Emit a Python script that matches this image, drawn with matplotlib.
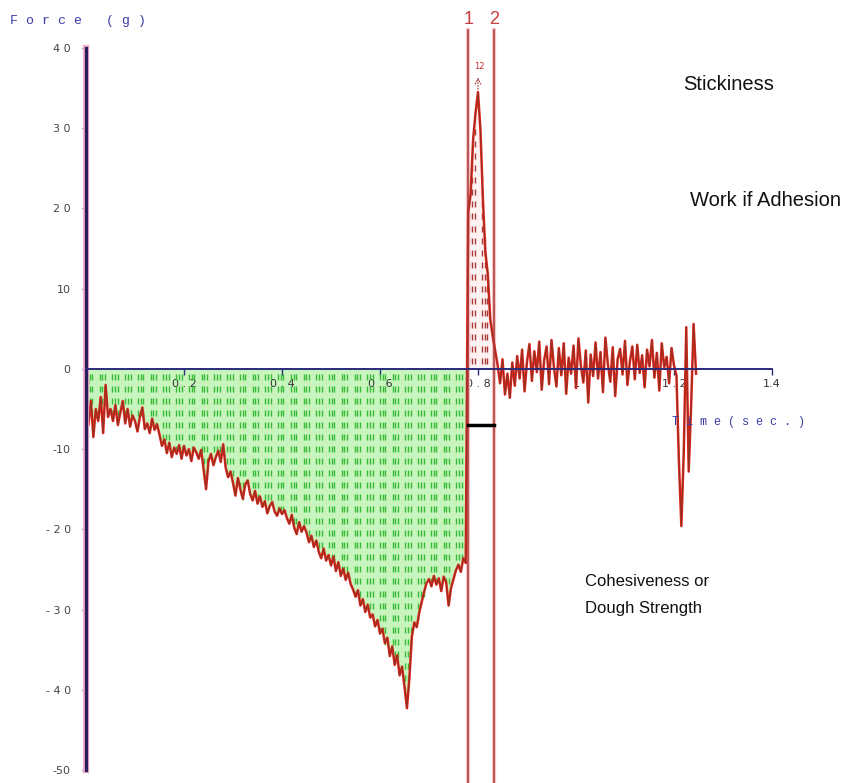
import numpy as np
import matplotlib.pyplot as plt

# Force readings (g), one every 5 ms starting at t = 0
SAMPLE_DT = 0.005

# pull phase (negative force) up to the release point
pull_force = [
    -3, -7, -4, -8.5, -5, -6.5, -3.5, -8, -2, -6,
    -5, -6.5, -4.5, -7, -5.5, -4, -6.8, -5, -7.2, -5.8,
    -6.5, -7.8, -6, -4.8, -7.5, -6.8, -8, -6.2, -7.6, -6.9,
    -8.2, -9.6, -8.8, -10.5, -9.2, -11, -9.8, -10.6, -9.5, -11.2,
    -9.6, -10.8, -10, -11.5, -9.8, -10.4, -11.2, -10.1, -12.5, -15,
    -11.5, -10.6, -12, -11, -10.2, -11.6, -9.4, -12.3, -13.5, -12.8,
    -14.2, -15.8, -13.6, -15, -16.2, -14.4, -13.9, -15.6, -16.4, -15.2,
    -16.8, -15.9, -17.2, -16.5, -18, -17.1, -16.6, -17.8, -18.3, -17.4,
    -18.1, -17.6, -18.6, -19.3, -18.2, -19.8, -20.6, -19.1, -20.3, -19.6,
    -20.4, -21.6, -20.8, -22.2, -21.4, -22.8, -23.6, -22.4, -23.9, -23.2,
    -24.5, -23.4, -25.2, -24.1, -25.8, -24.9, -26.3, -25.4, -26.8, -27.5,
    -28.4, -27.6, -29.5, -28.7, -30.3, -29.4, -31, -30.6, -32.1, -31.3,
    -33, -32.4, -34.2, -33.5, -35.8, -34.6, -36.9, -35.7, -38.2, -37.1,
    -39.6, -42.3, -38.5, -33.4, -31.6, -32.2, -30.4, -29.1, -27.8, -26.7,
    -26.2, -27.1, -25.8, -26.9, -26.1, -27.7, -25.9, -26.6, -29.5, -27.3,
    -26.2, -25.1, -24.4, -25.3, -23.6, -24.2,
]
# stickiness peak between markers 1 and 2
peak_force = [19.5, 21.8, 28.6, 31.9, 34.5, 29.8, 21.2, 14.6, 11.8, 6.2, 4.1, 2.3]
# baseline noise after release
tail_force = [
    0.5, -1.8, 1.2, -3.2, -0.6, -3.6, 0.8, -2.1, 1.6, -1.2,
    2.4, -2.8, 0.9, 3.1, -1.5, 2.2, -0.4, 3.4, -2.6, 1.1,
    2.8, -1.9, 3.6, 0.2, -2.2, 2.6, -0.8, 3.2, -3.1, 1.4,
    -0.6, 2.9, -2.4, 3.8, 0.4, -1.7, 2.3, -4.2, 1.8, -0.9,
    3.3, -1.2, 2.1, -2.9, 3.9, 0.6, -1.6, 2.7, -3.4, 1.2,
    2.5, -0.7, 3.5, -2.0, 0.9, 2.8, -1.3, 3.0, -0.5, 1.7,
    -2.3, 2.4, 0.3, 3.6, -1.1, 2.0, -2.7, 3.2, 0.2, 1.5,
    -1.8, 2.6, 0.4, -0.8,
    -11.5, -19.6, -10.2, 5.2, -12.8, -4.5, 5.6, -0.6,
]

markers_t = [0.78, 0.833]
marker_names = ['1', '2']
adhesion_bar_y = -7.0

y_ticks = [40, 30, 20, 10, 0, -10, -20, -30, -40, -50]
y_tick_labels = ['4 0', '3 0', '2 0', '10', '0', '-10', '- 2 0', '- 3 0', '- 4 0', '-50']
x_ticks = [0, 0.2, 0.4, 0.6, 0.8, 1.0, 1.2, 1.4]
x_tick_labels = ['0', '0 . 2', '0 . 4', '0 . 6', '0 . 8', '1', '1 . 2', '1.4']

force = np.array(pull_force + peak_force + tail_force)
t = np.arange(len(force)) * SAMPLE_DT
n_pull = len(pull_force)
n_peak = len(peak_force)

fig = plt.figure(figsize=(8.6, 7.83), dpi=100)
ax = fig.add_axes([86 / 860, 13 / 783, 686 / 860, 722 / 783])
ax.set_xlim(0, 1.4)
ax.set_ylim(-50, 40)


def dash_fill(ax, tt, ff, rows, color, size):
    # rows of short vertical dashes (groups of three) inside the area under the curve
    base = np.arange(tt[0], tt[-1], 0.026)
    cols = np.concatenate([base + off for off in (0.002, 0.0075, 0.013)])
    cols = cols[cols <= tt[-1]]
    X, Y = np.meshgrid(cols, rows)
    curve = np.interp(X, tt, ff)
    inside = ((Y < 0) & (Y > curve)) | ((Y > 0) & (Y < curve))
    ax.plot(X[inside], Y[inside], ls='none', marker='|', ms=size,
            mew=1.0, color=color, zorder=2)


# work of cohesion area (green)
tp, fp = t[:n_pull], force[:n_pull]
ax.fill_between(tp, fp, 0, color='#c8f5be', lw=0, zorder=1)
dash_fill(ax, tp, fp, np.arange(-1.0, -50, -1.5), '#36bb36', 4.5)

# work of adhesion area (red dashes)
tk = t[n_pull:n_pull + n_peak - 1]
fk = force[n_pull:n_pull + n_peak - 1]
ax.fill_between(tk, fk, 0, color='#fff2f2', lw=0, zorder=1)
dash_fill(ax, tk, fk, np.arange(1.0, 40, 1.5), '#a83a3a', 4.5)

# force curve
ax.plot(t, force, color='#e8221a', lw=1.8, zorder=4)
ax.plot(t, force, color='#8a3424', lw=0.7, zorder=5)

# markers 1 and 2
for xm, name in zip(markers_t, marker_names):
    ax.plot([xm, xm], [-51.7, 42.2], color='#f6c4c4', lw=3, clip_on=False, zorder=3)
    ax.plot([xm, xm], [-51.7, 42.2], color='#a83838', lw=1.1, clip_on=False, zorder=6)
    ax.text(xm, 43.6, name, color='#c83c3c', fontsize=13, ha='center', va='center',
            family='Liberation Sans', clip_on=False)

ax.plot(markers_t, [adhesion_bar_y, adhesion_bar_y], color='black', lw=2.5, zorder=7)

# peak marker
pk = n_pull + int(np.argmax(peak_force))
ax.annotate('', xy=(t[pk], force[pk] + 2.2), xytext=(t[pk], force[pk]),
            arrowprops=dict(arrowstyle='->', color='#a83838', lw=0.8, ls=':'), zorder=6)
ax.text(t[pk] + 0.002, force[pk] + 2.6, '12', color='#c03030', fontsize=6,
        ha='center', va='bottom')

# axes
for s in ('top', 'right'):
    ax.spines[s].set_visible(False)
ax.spines['left'].set_color('#2b1d5c')
ax.spines['left'].set_linewidth(2.4)
ax.spines['left'].set_zorder(8)
ax.plot([0, 0], [-50, 40], color='#f4b0d0', lw=4.5, clip_on=False, zorder=7)
ax.spines['bottom'].set_position(('data', 0))
ax.spines['bottom'].set_color('#2a2a7a')
ax.spines['bottom'].set_linewidth(1.4)
ax.spines['bottom'].set_zorder(8)

ax.set_yticks(y_ticks)
ax.set_yticklabels(y_tick_labels)
ax.set_xticks(x_ticks)
ax.set_xticklabels(x_tick_labels)
ax.tick_params(axis='y', direction='out', length=3, width=1, color='#2b1d5c',
               labelsize=8, labelcolor='#444444', pad=8)
ax.tick_params(axis='x', direction='out', length=4, width=1, color='#2a2a7a',
               labelsize=8, labelcolor='#333333', pad=3)

fig.text(10 / 860, 1 - 21 / 783, 'F o r c e   ( g )', color='#3c3ca8', fontsize=9.5,
         family='Liberation Mono', va='center')
ax.text(1.196, -6.6, 'T i m e ( s e c . )', color='#3c3ca8', fontsize=8.5,
        family='Liberation Mono', va='center', zorder=9)

top_kw = dict(fontsize=14.5, family='Liberation Sans', color='#111111', va='center')
low_kw = dict(fontsize=12, family='Liberation Sans', color='#111111', va='center')
fig.text(683 / 860, 1 - 85 / 783, 'Stickiness', **top_kw)
fig.text(690 / 860, 1 - 201 / 783, 'Work if Adhesion', **top_kw)
fig.text(585 / 860, 1 - 582 / 783, 'Cohesiveness or', **low_kw)
fig.text(585 / 860, 1 - 608 / 783, 'Dough Strength', **low_kw)

fig.savefig('out.png', dpi=100)
